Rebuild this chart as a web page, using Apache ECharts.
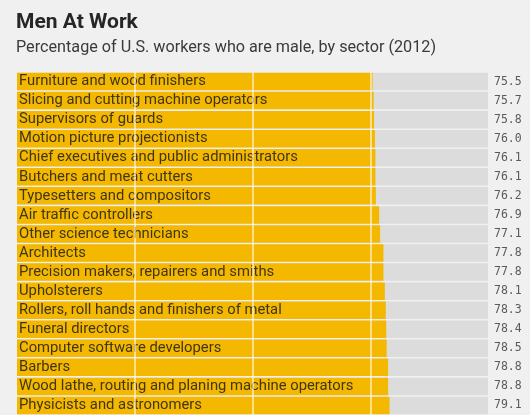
<!DOCTYPE html>
<html lang="en">
<head>
    <meta charset="UTF-8">
    <title>Men At Work</title>
    <script src="https://cdn.jsdelivr.net/npm/echarts@6/dist/echarts.min.js"></script>
    <style>
        html, body { margin: 0; padding: 0; background: #f0f0f0; }
        #main { width: 530px; height: 415px; }
    </style>
</head>
<body>
<div id="main"></div>
<script type="text/javascript">
    // occupations, top to bottom
    var sectors = [
        'Furniture and wood finishers',
        'Slicing and cutting machine operators',
        'Supervisors of guards',
        'Motion picture projectionists',
        'Chief executives and public administrators',
        'Butchers and meat cutters',
        'Typesetters and compositors',
        'Air traffic controllers',
        'Other science technicians',
        'Architects',
        'Precision makers, repairers and smiths',
        'Upholsterers',
        'Rollers, roll hands and finishers of metal',
        'Funeral directors',
        'Computer software developers',
        'Barbers',
        'Wood lathe, routing and planing machine operators',
        'Physicists and astronomers'
    ];
    // percent male
    var malePct = [75.5, 75.7, 75.8, 76.0, 76.1, 76.1, 76.2, 76.9, 77.1, 77.8,
        77.8, 78.1, 78.3, 78.4, 78.5, 78.8, 78.8, 79.1];
    var gridTicks = [25, 50, 75];

    var myChart = echarts.init(document.getElementById('main'));

    var option = {
        backgroundColor: '#f0f0f0',
        animation: false,
        title: {
            text: 'Men At Work',
            subtext: 'Percentage of U.S. workers who are male, by sector (2012)',
            left: 11,
            top: 7,
            itemGap: 7,
            textStyle: {fontFamily: 'Roboto', fontWeight: 'bold', fontSize: 21, color: '#262626'},
            subtextStyle: {fontFamily: 'Roboto', fontSize: 16.2, color: '#3a3a3a'}
        },
        grid: {left: 17, right: 42, top: 72, height: 344},
        xAxis: {
            type: 'value',
            min: 0,
            max: 100,
            show: false
        },
        yAxis: [{
            type: 'category',
            data: sectors,
            inverse: true,
            show: false
        }, {
            type: 'category',
            position: 'right',
            inverse: true,
            data: malePct.map(function (v) { return v.toFixed(1); }),
            axisLine: {show: false},
            axisTick: {show: false},
            axisLabel: {
                margin: 6,
                fontFamily: 'DejaVu Sans Mono',
                fontSize: 11.5,
                color: '#5a5a5a'
            }
        }],
        series: [{
            type: 'bar',
            data: malePct,
            barWidth: 17.5,
            itemStyle: {color: '#f5b800'},
            showBackground: true,
            backgroundStyle: {color: '#dcdcdc'},
            label: {
                show: true,
                position: 'insideLeft',
                distance: 2,
                formatter: '{b}',
                fontFamily: 'Roboto',
                fontSize: 14.8,
                color: '#3f3618'
            },
            markLine: {
                silent: true,
                symbol: 'none',
                label: {show: false},
                lineStyle: {color: '#fff6dc', type: 'solid', width: 1.5, opacity: 0.85},
                data: gridTicks.map(function (t) { return {xAxis: t}; })
            }
        }]
    };
    myChart.setOption(option);
</script>
</body>
</html>
